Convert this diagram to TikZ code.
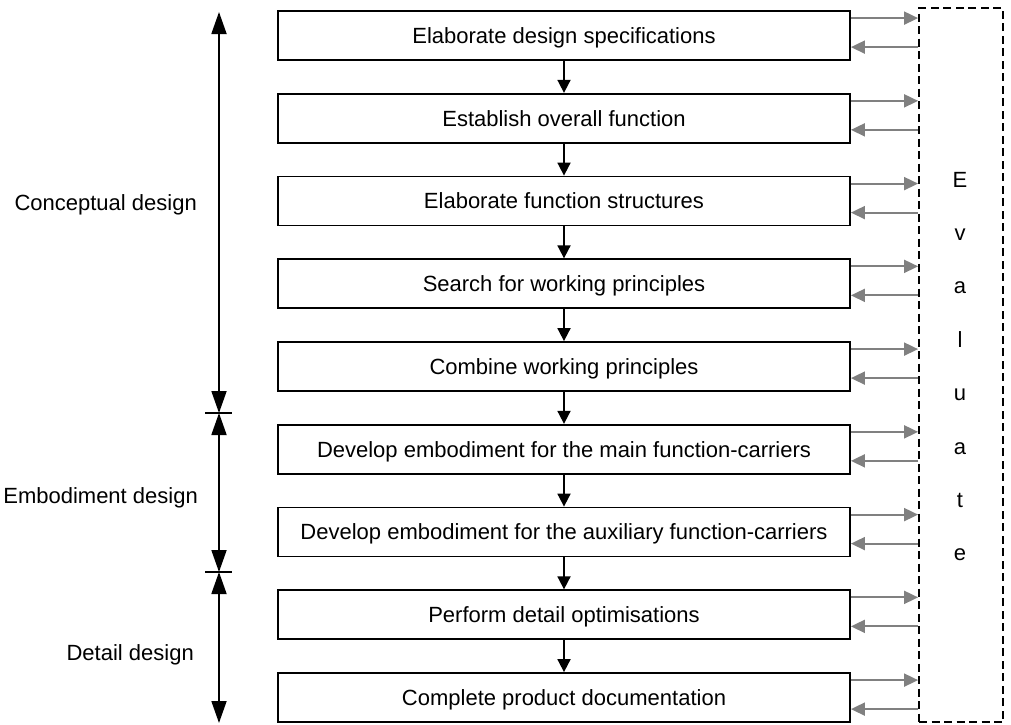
\documentclass[tikz,border=0pt]{standalone}
\usepackage{fontspec}
\setmainfont{Liberation Sans}
\usetikzlibrary{arrows.meta}
\definecolor{arrgray}{RGB}{128,128,128}
\tikzset{
  stepbox/.style={draw=black, line width=1.8pt, minimum width=572pt, minimum height=49pt,
    inner sep=0pt, text height=15.8pt, text depth=0pt, font=\fontsize{22pt}{26pt}\selectfont},
  flowarrow/.style={line width=1.8pt, -{Triangle[width=13pt,length=13pt]}},
  evalarrow/.style={draw=arrgray, line width=1.8pt, -{Triangle[width=13pt,length=14pt]}},
  phasearrow/.style={line width=1.8pt, {Triangle[width=15pt,length=22pt]}-{Triangle[width=15pt,length=22pt]}},
  phaselabel/.style={anchor=base east, inner sep=0pt, font=\fontsize{22pt}{26pt}\selectfont},
  evalletter/.style={anchor=base, inner sep=0pt, font=\fontsize{22pt}{26pt}\selectfont},
}
\begin{document}
\begin{tikzpicture}[x=1pt,y=-1pt]
\useasboundingbox (0,0) rectangle (1011,724);
% boxes
\foreach \i/\t in {1/Elaborate design specifications,
                   2/Establish overall function,
                   3/Elaborate function structures,
                   4/Search for working principles,
                   5/Combine working principles,
                   6/Develop embodiment for the main function-carriers,
                   7/Develop embodiment for the auxiliary function-carriers,
                   8/Perform detail optimisations,
                   9/Complete product documentation}{
  \node[stepbox] (b\i) at (564, {11+82.75*(\i-1)+24.5}) {\t};
}
% flow arrows
\foreach \i [evaluate=\i as \j using int(\i+1)] in {1,...,8}{
  \draw[flowarrow] (b\i.south) -- (b\j.north);
}
% evaluate box
\node[draw=black, line width=1.8pt, dash pattern=on 8pt off 4.5pt, minimum width=84pt, minimum height=714pt, inner sep=0pt] (ev) at (961,365) {};
\foreach \k/\c in {0/E,1/v,2/a,3/l,4/u,5/a,6/t,7/e}{
  \node[evalletter] (ev\k) at (960,{187+53.4*\k}) {\c};
}
% gray arrows
\foreach \i in {1,...,9}{
  \coordinate (o\i) at ([yshift=-8pt]b\i.north east);
  \coordinate (r\i) at ([yshift=-37pt]b\i.north east);
  \draw[evalarrow] (o\i) -- (o\i -| ev.west);
  \draw[evalarrow] (r\i -| ev.west) -- (r\i);
}
% phase arrows
\coordinate (p0) at (219,12);
\coordinate (p1) at (219,413);
\coordinate (p2) at (219,572);
\coordinate (p3) at (219,723);
\draw[phasearrow] (p0) -- (p1);
\draw[phasearrow] (p1) -- (p2);
\draw[phasearrow] (p2) -- (p3);
\draw[line width=1.8pt] ([xshift=-14pt]p1) -- ([xshift=13pt]p1);
\draw[line width=1.8pt] ([xshift=-14pt]p2) -- ([xshift=13pt]p2);
% phase labels
\node[phaselabel] (l1) at (197,210.5) {Conceptual design};
\node[phaselabel] (l2) at (198,503) {Embodiment design};
\node[phaselabel] (l3) at (194,660) {Detail design};
\end{tikzpicture}
\end{document}
